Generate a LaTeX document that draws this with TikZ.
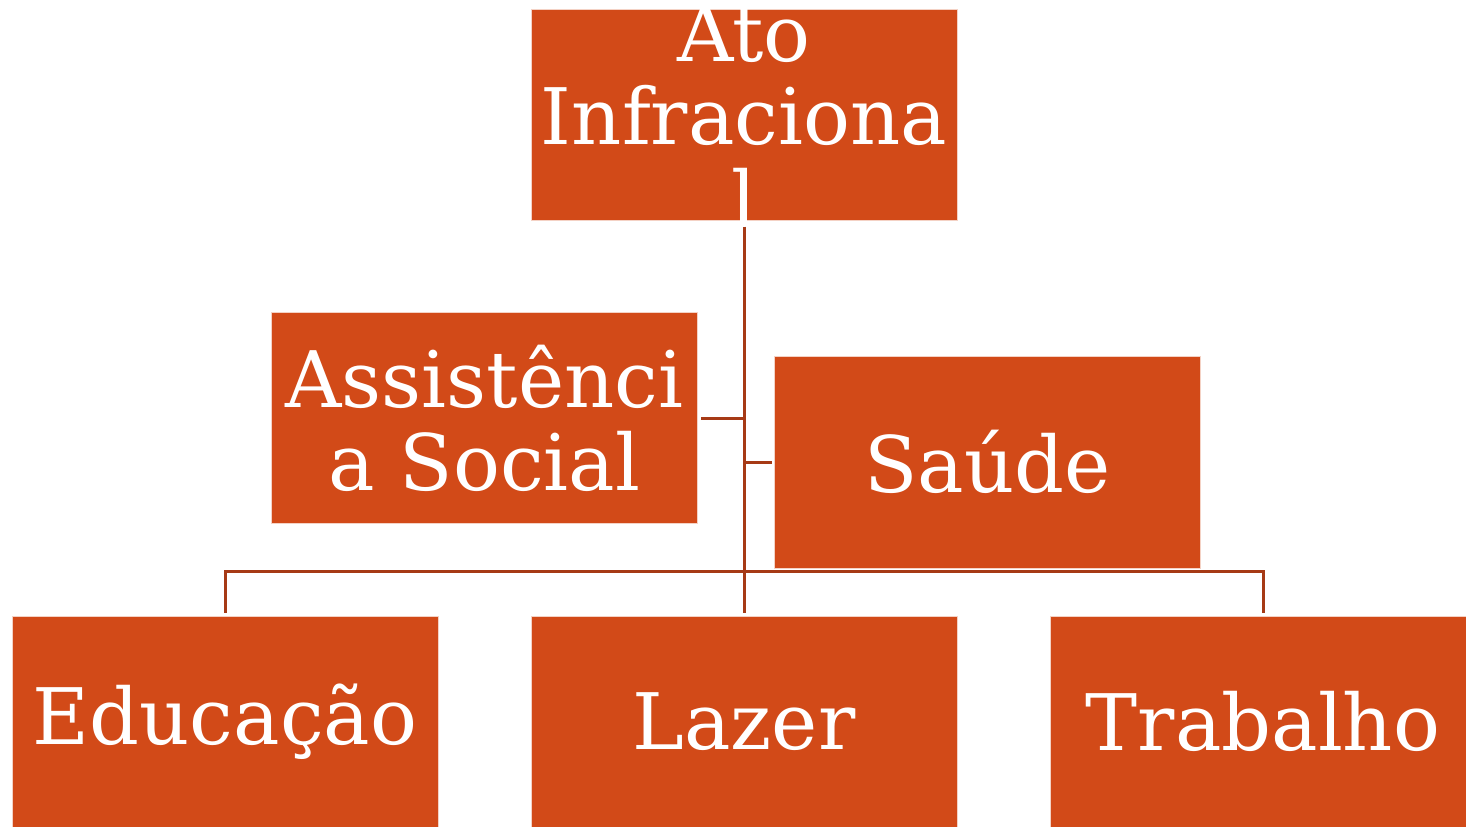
\documentclass[tikz,border=0pt]{standalone}
\usepackage{fontspec}
\setmainfont{DejaVu Serif}
\definecolor{boxfill}{HTML}{D24A18}
\definecolor{linec}{HTML}{A63A16}
\begin{document}
\begin{tikzpicture}[x=0.5pt,y=-0.5pt,
  orgbox/.style={rectangle, fill=boxfill, draw=white!75!boxfill, line width=0.5pt,
    minimum width=213pt, minimum height=105.5pt, inner sep=0pt, text=white,
    font=\fontsize{39}{41.5}\selectfont, align=center},
  boxtext/.style={inner sep=0pt, text=white, font=\fontsize{39}{41.5}\selectfont, align=center},
  conn/.style={draw=linec, line width=1.5pt}]
\useasboundingbox (0,0) rectangle (1466,826);
\clip (0,0) rectangle (1466,826);
\node[orgbox] (top) at (744,114.5) {};
\node[boxtext] (toptext) at ([yshift=-1pt]top.center) {Ato\\Infraciona\\l};
\node[orgbox] (assist) at (484.5,418) {Assistênci\\a Social};
\node[orgbox, minimum height=106pt] (saude) at (987.5,462) {Saúde};
\node[orgbox] (educ) at (225,721.5) {Educação};
\node[orgbox] (lazer) at (744,721.5) {Lazer};
\node[orgbox] (trab) at (1263,721.5) {Trabalho};
\coordinate (bus) at (744,571);
\draw[conn, shorten <=3pt, shorten >=1.5pt] (top) -- (lazer);
\draw[conn, shorten <=1.5pt] (assist.east) -- (assist.east -| top.south);
\draw[conn, shorten >=1pt] (saude.west -| top.south) -- (saude.west);
\draw[conn, shorten <=1.5pt, shorten >=1.5pt] (educ.north) |- (bus) -| (trab.north);
\end{tikzpicture}
\end{document}
